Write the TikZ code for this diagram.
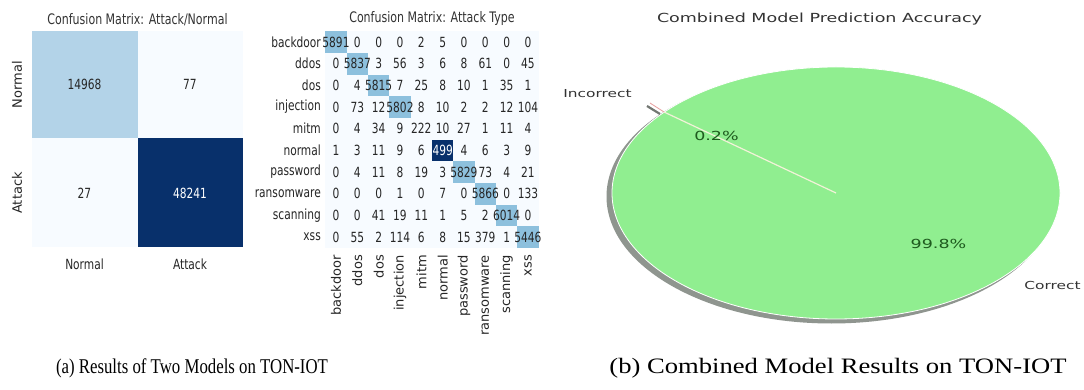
\documentclass[tikz,border=0pt]{standalone}
\usepackage{fontspec}
\newfontfamily\plotfont[FakeStretch=0.76]{DejaVu Sans}
\newfontfamily\plotfontup{DejaVu Sans}
\newfontfamily\piefont[FakeStretch=1.4]{DejaVu Sans}
\newfontfamily\capafont[FakeStretch=0.8]{Liberation Serif}
\newfontfamily\capbfont[FakeStretch=1.21]{Liberation Serif}
\definecolor{cmlight}{HTML}{F7FBFF}
\definecolor{cmmid}{HTML}{B3D3E8}
\definecolor{cmdiag}{HTML}{8DC0DD}
\definecolor{cmdark}{HTML}{08306B}
\definecolor{cmtext}{HTML}{262626}
\definecolor{piegreen}{HTML}{90EE90}
\definecolor{pieshadow}{HTML}{8F958F}
\definecolor{pietext}{HTML}{333333}
\definecolor{pctgreen}{HTML}{1E5A1E}
\definecolor{slicepink}{HTML}{E8A0A0}
\definecolor{wedgepale}{HTML}{F2F2D8}

\begin{document}
\begin{tikzpicture}[x=1pt,y=-1pt]
\tikzstyle{plottitle} = [inner sep=0pt, text=pietext, font=\plotfont\fontsize{14.5}{14.5}\selectfont]
\tikzstyle{cellnum} = [inner sep=0pt, text=cmtext, font=\plotfont\fontsize{14}{14}\selectfont]
\tikzstyle{ticktext} = [inner sep=1pt, text=cmtext, font=\plotfont\fontsize{14}{14}\selectfont]
\tikzstyle{tickup} = [inner sep=1pt, rotate=90, text=cmtext, font=\plotfontup\fontsize{13}{13}\selectfont]
\tikzstyle{pietitle} = [inner sep=0pt, text=pietext, font=\piefont\fontsize{12.5}{12.5}\selectfont]
\tikzstyle{pielabel} = [inner sep=0pt, text=pietext, font=\piefont\fontsize{11}{11}\selectfont]
\tikzstyle{piepct} = [inner sep=0pt, text=pctgreen, font=\piefont\fontsize{12.5}{12.5}\selectfont]

\useasboundingbox (0,0) rectangle (1084,390);
\fill[white] (0,0) rectangle (1084,390);

% binary confusion matrix
\fill[cmmid] (32,31) rectangle (137.5,138.5);
\fill[cmlight] (137.5,31) rectangle (243,138.5);
\fill[cmlight] (32,138.5) rectangle (137.5,247);
\fill[cmdark] (137.5,138.5) rectangle (243,247);

\node (BinaryTitle) [plottitle] at (137.5,20) {Confusion Matrix: Attack/Normal};
\node (BinaryNN) [cellnum] at (84.5,84.5) {14968};
\node (BinaryNA) [cellnum] at (190,84.5) {77};
\node (BinaryAN) [cellnum] at (84.5,193) {27};
\node (BinaryAA) [cellnum, text=white] at (190,193) {48241};
\node (BinaryRowNormal) [tickup] at (17,84.5) {Normal};
\node (BinaryRowAttack) [tickup] at (17,193) {Attack};
\node (BinaryColNormal) [ticktext] at (84.5,264) {Normal};
\node (BinaryColAttack) [ticktext] at (190,264) {Attack};

% attack type confusion matrix
\fill[cmlight] (325.3,31.2) rectangle (538.7,247.9);
\foreach \d/\tone in {1/cmdiag,2/cmdiag,3/cmdiag,4/cmdiag,6/cmdark,7/cmdiag,8/cmdiag,9/cmdiag,10/cmdiag}
  \fill[\tone] ({325.3+(\d-1)*21.33},{31.2+(\d-1)*21.67}) rectangle +(21.33,21.67);

\node (TypeTitle) [plottitle] at (432,19) {Confusion Matrix: Attack Type};

\foreach \vals [count=\r] in {{5891,0,0,0,2,5,0,0,0,0},
                              {0,5837,3,56,3,6,8,61,0,45},
                              {0,4,5815,7,25,8,10,1,35,1},
                              {0,73,12,5802,8,10,2,2,12,104},
                              {0,4,34,9,222,10,27,1,11,4},
                              {1,3,11,9,6,499,4,6,3,9},
                              {0,4,11,8,19,3,5829,73,4,21},
                              {0,0,0,1,0,7,0,5866,0,133},
                              {0,0,41,19,11,1,5,2,6014,0},
                              {0,55,2,114,6,8,15,379,1,5446}} {
  \foreach \v [count=\c] in \vals {
    \ifnum\r\c=66 \def\numcol{white}\else\def\numcol{cmtext}\fi
    \node (TypeCell\r-\c) [cellnum, text=\numcol] at ({336+(\c-1)*21.33},{42+(\r-1)*21.67}) {\v};
  }
}

\foreach \attack [count=\i] in {backdoor,ddos,dos,injection,mitm,normal,password,ransomware,scanning,xss} {
  \node (TypeRow\i) [ticktext, anchor=east] at (322,{42+(\i-1)*21.67}) {\attack};
  \node (TypeCol\i) [tickup, anchor=east] at ({336+(\i-1)*21.33},254) {\attack};
}

% combined pie chart
\coordinate (PieCenter) at (836,193);
\fill[pieshadow] (831.5,196.5) ellipse [x radius=225, y radius=127];
\draw[white, fill=piegreen, line width=0.8pt] (PieCenter) ellipse [x radius=224, y radius=126];

\coordinate (WedgeEdge) at (664,112);
\coordinate (SliceTip) at (650,103);
\coordinate (ShadowTip) at (647,106);
\coordinate (ShadowEnd) at (660,114);
\draw[wedgepale, line width=1.2pt] (PieCenter) -- (WedgeEdge);
\draw[pieshadow!80!black, line width=2.2pt] (ShadowTip) -- (ShadowEnd);
\draw[slicepink, line width=0.8pt] (SliceTip) -- (WedgeEdge);

\node (PieTitle) [pietitle] at (819.5,19) {Combined Model Prediction Accuracy};
\node (IncorrectLabel) [pielabel] at (597.5,94) {Incorrect};
\node (IncorrectPct) [piepct] at (716.5,136) {0.2\%};
\node (CorrectPct) [piepct] at (938.5,244) {99.8\%};
\node (CorrectLabel) [pielabel] at (1052.5,285) {Correct};

% captions
\node (CaptionA) [inner sep=0pt, font=\capafont\fontsize{21}{21}\selectfont] at (192,368) {(a) Results of Two Models on TON-IOT};
\node (CaptionB) [inner sep=0pt, font=\capbfont\fontsize{22}{22}\selectfont] at (838,368) {(b) Combined Model Results on TON-IOT};

\end{tikzpicture}
\end{document}
